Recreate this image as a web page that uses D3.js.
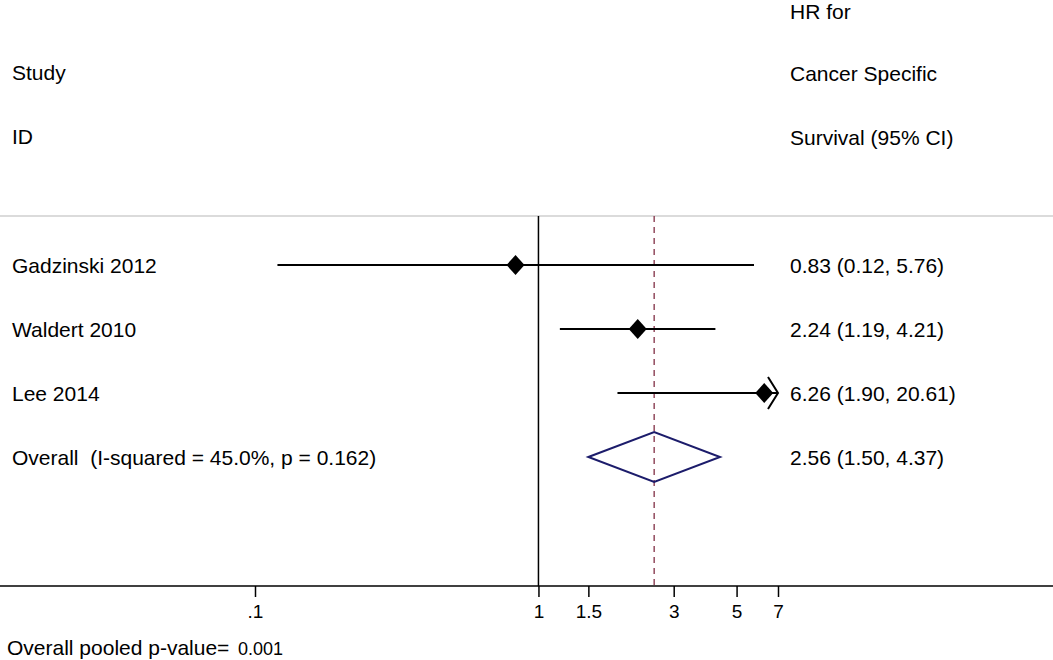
<!DOCTYPE html>
<html>
<head>
<meta charset="utf-8">
<script src="https://cdn.jsdelivr.net/npm/d3@7"></script>
<style>
  body { margin: 0; background: #fff; }
  text { font-family: "Liberation Sans", Arial, Helvetica, sans-serif; fill: #000; white-space: pre; }
</style>
</head>
<body>
<svg id="chart" width="1053" height="660"></svg>
<script>
// study rows
const studies = ["Gadzinski 2012", "Waldert 2010", "Lee 2014"];
const hr = [0.83, 2.24, 6.26];
const lower = [0.12, 1.19, 1.90];
const upper = [5.76, 4.21, 20.61];
const hrLabels = ["0.83 (0.12, 5.76)", "2.24 (1.19, 4.21)", "6.26 (1.90, 20.61)"];

// pooled estimate
const overallName = "Overall  (I-squared = 45.0%, p = 0.162)";
const overall = [2.56, 1.50, 4.37]; // hr, lower, upper
const overallLabel = "2.56 (1.50, 4.37)";

// axis ticks
const tickValues = [0.1, 1, 1.5, 3, 5, 7];
const tickLabels = [".1", "1", "1.5", "3", "5", "7"];

const width = 1053;
const height = 660;
const axisY = 586;
const topLineY = 216;
const fontSize = 21;

const svg = d3.select("#chart");

const x = d3.scaleLog().domain([0.1, 7]).range([255, 778]);
// row index -> vertical centre (header rows use negative indices)
const y = d3.scaleLinear().domain([0, 3]).range([265, 457]);

// header text
const header = svg.append("g").style("font-size", fontSize + "px");
header.append("text").attr("x", 12).attr("y", y(-3)).attr("dy", "0.35em").text("Study");
header.append("text").attr("x", 12).attr("y", y(-2)).attr("dy", "0.35em").text("ID");
["HR for", "Cancer Specific", "Survival (95% CI)"].forEach((t, i) => {
  // first line sits against the top edge, nudge it down so it stays whole
  header.append("text").attr("x", 790).attr("y", y(i - 4) + (i === 0 ? 3 : 1)).attr("dy", "0.35em").text(t);
});

// top separator
svg.append("line")
  .attr("x1", 0).attr("x2", width)
  .attr("y1", topLineY).attr("y2", topLineY)
  .attr("stroke", "#cfcfcf").attr("stroke-width", 1.5);

// null line at HR = 1
svg.append("line")
  .attr("x1", x(1)).attr("x2", x(1))
  .attr("y1", topLineY).attr("y2", axisY)
  .attr("stroke", "#000").attr("stroke-width", 1.5);

// dashed line at pooled estimate
svg.append("line")
  .attr("x1", x(overall[0])).attr("x2", x(overall[0]))
  .attr("y1", topLineY).attr("y2", axisY)
  .attr("stroke", "#8a3d52").attr("stroke-width", 1.4)
  .attr("stroke-dasharray", "6,5");

// confidence intervals (clipped at axis range)
const xMax = x.domain()[1];
const rows = studies.map((s, i) => ({ name: s, hr: hr[i], lo: lower[i], hi: upper[i], label: hrLabels[i], i }));

svg.append("g").selectAll("line")
  .data(rows)
  .join("line")
  .attr("x1", d => x(d.lo))
  .attr("x2", d => x(Math.min(d.hi, xMax)))
  .attr("y1", d => y(d.i))
  .attr("y2", d => y(d.i))
  .attr("stroke", "#000")
  .attr("stroke-width", 2.2);

// arrow for truncated intervals
svg.append("g").selectAll("path")
  .data(rows.filter(d => d.hi > xMax))
  .join("path")
  .attr("d", d => {
    const tx = x(xMax), ty = y(d.i);
    return `M${tx - 10},${ty - 16}L${tx},${ty}L${tx - 10},${ty + 16}`;
  })
  .attr("fill", "none")
  .attr("stroke", "#000")
  .attr("stroke-width", 2);

// point estimates
svg.append("g").selectAll("path")
  .data(rows)
  .join("path")
  .attr("d", d => {
    const cx = x(d.hr), cy = y(d.i);
    return `M${cx},${cy - 10}L${cx + 9},${cy}L${cx},${cy + 10}L${cx - 9},${cy}Z`;
  })
  .attr("fill", "#000");

// pooled diamond
const oy = y(3);
svg.append("path")
  .attr("d", `M${x(overall[1])},${oy}L${x(overall[0])},${oy - 25}L${x(overall[2])},${oy}L${x(overall[0])},${oy + 25}Z`)
  .attr("fill", "none")
  .attr("stroke", "#1c1c6b")
  .attr("stroke-width", 2);

// row labels
const labels = svg.append("g").style("font-size", fontSize + "px");
labels.selectAll("text.name")
  .data(rows)
  .join("text")
  .attr("class", "name")
  .attr("x", 12)
  .attr("y", d => y(d.i) + 1)
  .attr("dy", "0.35em")
  .text(d => d.name);
labels.selectAll("text.est")
  .data(rows)
  .join("text")
  .attr("class", "est")
  .attr("x", 790)
  .attr("y", d => y(d.i) + 1)
  .attr("dy", "0.35em")
  .text(d => d.label);
labels.append("text").attr("x", 12).attr("y", oy + 1).attr("dy", "0.35em").text(overallName);
labels.append("text").attr("x", 790).attr("y", oy + 1).attr("dy", "0.35em").text(overallLabel);

// x axis
svg.append("line")
  .attr("x1", 0).attr("x2", width)
  .attr("y1", axisY).attr("y2", axisY)
  .attr("stroke", "#000").attr("stroke-width", 1.5);

const axis = d3.axisBottom(x)
  .tickValues(tickValues)
  .tickFormat((d, i) => tickLabels[i])
  .tickSize(11)
  .tickPadding(8);

const gAxis = svg.append("g")
  .attr("transform", `translate(0,${axisY})`)
  .call(axis);
gAxis.select(".domain").remove();
gAxis.selectAll(".tick line").attr("stroke", "#000").attr("stroke-width", 1.5);
gAxis.selectAll(".tick text")
  .style("font-family", '"Liberation Sans", Arial, sans-serif')
  .style("font-size", "19px")
  .attr("fill", "#000");

// footnote
const foot = svg.append("g");
foot.append("text").attr("x", 7).attr("y", 655).style("font-size", "21px").text("Overall pooled p-value=");
foot.append("text").attr("x", 238).attr("y", 655).style("font-size", "18px").text("0.001");
</script>
</body>
</html>
